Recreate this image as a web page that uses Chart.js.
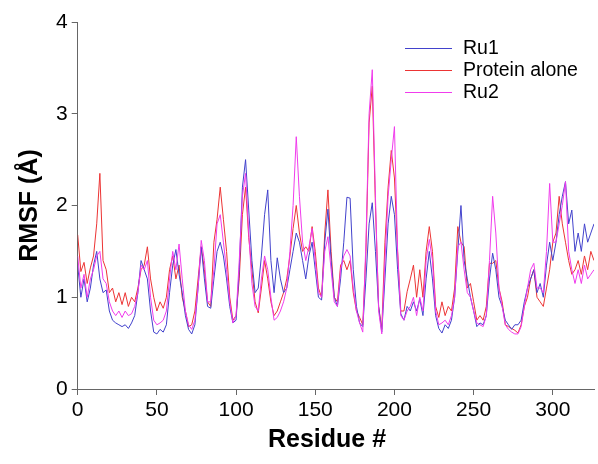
<!DOCTYPE html>
<html>
<head>
<meta charset="utf-8">
<script src="https://cdn.jsdelivr.net/npm/chart.js@4.4.1/dist/chart.umd.min.js"></script>
<style>
  html, body { margin:0; padding:0; background:#fff; }
  #wrap { position:relative; width:598px; height:464px; }
</style>
</head>
<body>
<div id="wrap"><canvas id="rmsf" width="598" height="464"></canvas></div>
<script>
// residue numbers (every 2nd residue)
const residues = [
  0,2,4,6,8,10,12,14,16,18,20,22,24,26,28,30,32,34,36,38,40,42,44,46,48,
  50,52,54,56,58,60,62,64,66,68,70,72,74,76,78,80,82,84,86,88,90,92,94,96,98,
  100,102,104,106,108,110,112,114,116,118,120,122,124,126,128,130,132,134,136,138,
  140,142,144,146,148,150,152,154,156,158,160,162,164,166,168,170,172,174,176,178,
  180,182,184,186,188,190,192,194,196,198,200,202,204,206,208,210,212,214,216,218,
  220,222,224,226,228,230,232,234,236,238,240,242,244,246,248,250,252,254,256,258,
  260,262,264,266,268,270,272,274,276,278,280,282,284,286,288,290,292,294,296,298,
  300,302,304,306,308,310,312,314,316,318,320,322,324,326
];

const ru1 = [
  1.35,1.0,1.2,0.95,1.1,1.35,1.5,1.2,1.05,1.08,0.85,0.75,0.72,0.7,0.68,0.7,0.66,0.72,0.8,1.05,1.4,1.3,1.2,0.85,0.62,
  0.6,0.65,0.62,0.7,1.05,1.35,1.52,1.25,1.05,0.8,0.65,0.6,0.7,1.1,1.55,1.2,0.9,0.88,1.2,1.5,1.6,1.45,1.2,0.9,0.72,
  0.75,1.3,2.2,2.5,1.95,1.4,1.05,1.1,1.45,1.9,2.17,1.4,1.05,1.43,1.2,1.05,1.1,1.3,1.5,1.7,
  1.6,1.4,1.2,1.45,1.6,1.3,1.0,0.97,1.6,1.96,1.4,1.0,0.9,1.2,1.6,2.09,2.08,1.3,0.9,0.72,
  0.68,1.2,1.8,2.03,1.5,0.9,0.62,1.2,1.8,2.1,1.9,1.3,0.82,0.75,0.9,0.85,0.95,0.85,0.98,0.8,
  1.2,1.5,1.2,0.8,0.66,0.61,0.7,0.66,0.75,1.0,1.5,2.0,1.4,1.2,1.0,0.85,0.68,0.72,0.7,0.8,
  1.2,1.48,1.3,1.0,0.9,0.75,0.7,0.65,0.7,0.7,0.75,0.95,1.1,1.2,1.3,1.05,1.15,1.0,1.35,1.6,
  1.4,1.6,1.9,2.1,2.26,1.8,1.95,1.5,1.7,1.5,1.8,1.6,1.7,1.8
];

const proteinAlone = [
  1.68,1.28,1.38,1.15,1.32,1.45,1.8,2.35,1.4,1.3,1.05,1.1,0.95,1.05,0.92,1.05,0.9,1.0,0.95,1.1,1.3,1.35,1.55,1.2,1.0,
  0.85,0.95,0.88,1.0,1.3,1.45,1.2,1.35,1.0,0.85,0.68,0.7,0.85,1.2,1.55,1.3,0.95,0.9,1.6,1.85,2.2,1.85,1.5,1.0,0.75,
  0.8,1.2,1.9,2.2,1.65,1.3,0.95,0.83,1.1,1.4,1.2,0.95,0.8,0.85,0.95,1.05,1.2,1.45,1.75,2.0,
  1.7,1.5,1.55,1.5,1.77,1.5,1.1,1.0,1.7,2.17,1.5,1.0,0.95,1.35,1.4,1.3,1.4,1.05,0.85,0.78,
  0.7,1.5,2.9,3.3,2.0,0.9,0.65,1.6,2.2,2.6,2.3,1.5,0.85,0.85,1.06,1.2,1.35,1.0,1.3,1.0,
  1.5,1.77,1.5,0.9,0.78,0.95,0.8,0.9,0.85,1.1,1.77,1.6,1.55,1.1,1.15,0.95,0.75,0.8,0.75,0.9,
  1.37,1.37,1.4,1.1,0.95,0.7,0.68,0.66,0.64,0.61,0.7,0.9,1.0,1.2,1.3,1.0,0.95,0.9,1.1,1.3,
  1.6,1.7,2.1,1.8,1.6,1.4,1.25,1.3,1.4,1.25,1.45,1.3,1.5,1.4
];

const ru2 = [
  1.45,1.1,1.25,1.0,1.2,1.3,1.45,1.5,1.2,1.15,0.95,0.85,0.8,0.85,0.78,0.85,0.8,0.82,0.9,1.05,1.35,1.3,1.4,1.0,0.75,
  0.7,0.72,0.75,0.85,1.2,1.5,1.3,1.58,1.2,0.85,0.7,0.65,0.75,1.1,1.62,1.4,0.95,0.95,1.3,1.8,1.9,1.6,1.3,0.95,0.72,
  0.8,1.4,2.1,2.35,1.7,1.15,0.9,0.85,1.2,1.45,1.3,1.0,0.75,0.78,0.85,0.95,1.1,1.5,2.0,2.75,
  2.1,1.6,1.4,1.55,1.75,1.4,1.05,1.0,1.5,1.66,1.3,0.95,0.9,1.3,1.45,1.52,1.45,1.1,0.85,0.72,
  0.62,1.6,3.0,3.48,2.1,0.85,0.6,1.4,2.1,2.5,2.86,1.5,0.8,0.75,0.85,0.9,1.0,0.8,1.0,0.85,
  1.4,1.63,1.4,0.85,0.7,0.72,0.75,0.7,0.8,1.0,1.55,1.6,1.3,1.05,1.0,0.85,0.72,0.7,0.68,0.8,
  1.4,2.1,1.7,1.1,0.9,0.7,0.65,0.62,0.6,0.6,0.68,0.9,1.1,1.3,1.37,1.1,1.1,1.05,1.5,2.24,
  1.6,1.6,1.8,2.0,2.26,1.5,1.3,1.15,1.3,1.15,1.35,1.2,1.25,1.3
];

const seriesNames = ['Ru1', 'Protein alone', 'Ru2'];
const xTicks = [0, 50, 100, 150, 200, 250, 300];
const yTicks = [0, 1, 2, 3, 4];

const toPts = arr => arr.map((v, i) => ({ x: residues[i], y: v }));

const fontFamily = '"Liberation Sans", Arial, sans-serif';

// legend inside the plot (upper right) + x title, which sits a bit left of centre in the original
const extras = {
  id: 'extras',
  afterDraw(chart){
    const ctx = chart.ctx;
    ctx.save();
    ctx.font = '19.5px ' + fontFamily;
    ctx.textBaseline = 'middle';
    ctx.fillStyle = '#000';
    chart.data.datasets.forEach((ds, i) => {
      const y = 48 + i * 22;
      ctx.strokeStyle = ds.borderColor;
      ctx.lineWidth = 1;
      ctx.beginPath(); ctx.moveTo(405, y + 0.5); ctx.lineTo(452, y + 0.5); ctx.stroke();
      ctx.fillText(ds.label, 463, y + 1);
    });
    ctx.font = 'bold 25px ' + fontFamily;
    ctx.textAlign = 'center';
    ctx.fillText('Residue #', 327, 440);
    ctx.restore();
  }
};

const axisColor = '#666';
const tickFont = { family: fontFamily, size: 21 };
const titleFont = { family: fontFamily, size: 25, weight: 'bold' };

new Chart(document.getElementById('rmsf'), {
  type: 'line',
  data: {
    datasets: [
      { label: seriesNames[0], data: toPts(ru1), borderColor: '#4242cc', order: 1 },
      { label: seriesNames[1], data: toPts(proteinAlone), borderColor: '#ec3434', order: 2 },
      { label: seriesNames[2], data: toPts(ru2), borderColor: '#f03cec', order: 0 }
    ].map(d => ({ ...d, borderWidth: 1, pointRadius: 0, tension: 0, fill: false }))
  },
  options: {
    responsive: false,
    animation: false,
    layout: { padding: { left: 0, right: 4, top: 22, bottom: 0 } },
    plugins: { legend: { display: false }, tooltip: { enabled: false } },
    scales: {
      x: {
        type: 'linear', min: 0, max: 326,
        afterBuildTicks: s => { s.ticks = xTicks.map(v => ({ value: v })); },
        afterFit: s => { s.height = 75; },
        grid: { drawOnChartArea: false, drawTicks: true, tickLength: 6, color: axisColor },
        border: { display: true, color: axisColor },
        ticks: { color: '#000', font: tickFont, padding: 3, maxRotation: 0 },
        title: { display: false }
      },
      y: {
        min: 0, max: 4,
        afterBuildTicks: s => { s.ticks = yTicks.map(v => ({ value: v })); },
        afterFit: s => { s.width = 77.7; },
        grid: { drawOnChartArea: false, drawTicks: true, tickLength: 6, color: axisColor },
        border: { display: true, color: axisColor },
        ticks: { color: '#000', font: tickFont, padding: 4 },
        title: { display: true, text: 'RMSF (Å)', color: '#000', font: titleFont, padding: { top: 15, bottom: 0 } }
      }
    }
  },
  plugins: [extras]
});
</script>
</body>
</html>
